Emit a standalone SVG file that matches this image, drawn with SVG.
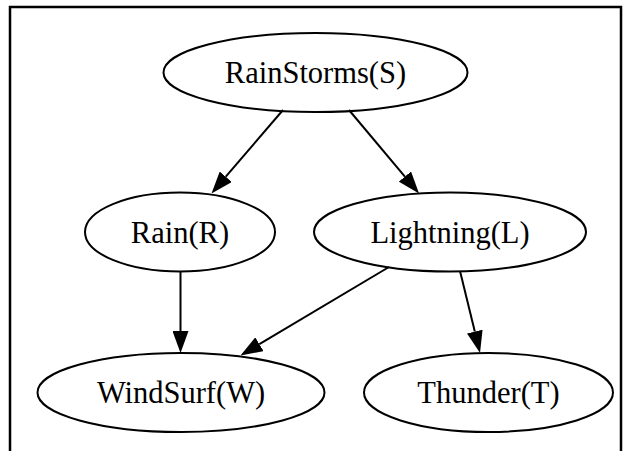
<svg xmlns="http://www.w3.org/2000/svg" width="629" height="451" viewBox="0 0 629 451">
<style>
.node ellipse{fill:none;stroke:#000;stroke-width:2}
.node text{font-family:"Liberation Serif","Times New Roman",serif;font-size:30.5px;fill:#000;text-anchor:middle}
.edge line{stroke:#000;stroke-width:2;marker-end:url(#arr)}
.frame{stroke:#000;stroke-width:2.5;fill:none}
</style>
<defs>
<marker id="arr" markerUnits="userSpaceOnUse" markerWidth="22" markerHeight="16" refX="0" refY="8" orient="auto" viewBox="0 0 22 16">
<path d="M0,0 L22,8 L0,16 z" fill="#000"/>
</marker>
</defs>
<rect width="629" height="451" fill="#fff"/>
<g id="frame">
<polyline class="frame" points="10,451 10,7 621,7 621,451"/>
</g>
<g id="edges">
<g class="edge" id="e_S_R"><line x1="283" y1="110" x2="225.8" y2="176.7"/></g>
<g class="edge" id="e_S_L"><line x1="349" y1="110" x2="404.9" y2="176.6"/></g>
<g class="edge" id="e_R_W"><line x1="180.5" y1="271" x2="180.5" y2="331"/></g>
<g class="edge" id="e_L_W"><line x1="389" y1="267" x2="259.4" y2="344.2"/></g>
<g class="edge" id="e_L_T"><line x1="460" y1="271" x2="474.8" y2="331.6"/></g>
</g>
<g class="node" id="S"><ellipse cx="315.5" cy="72.5" rx="152" ry="39.5"/><text x="315.5" y="83">RainStorms(S)</text></g>
<g class="node" id="R"><ellipse cx="180" cy="232" rx="95" ry="39.5"/><text x="180" y="242.5">Rain(R)</text></g>
<g class="node" id="L"><ellipse cx="450" cy="232" rx="136" ry="39.5"/><text x="450" y="242.5">Lightning(L)</text></g>
<g class="node" id="W"><ellipse cx="181" cy="392.5" rx="143.5" ry="39.5"/><text x="181" y="403">WindSurf(W)</text></g>
<g class="node" id="T"><ellipse cx="488.5" cy="392.5" rx="124.5" ry="39.5"/><text x="488.5" y="403">Thunder(T)</text></g>
</svg>
